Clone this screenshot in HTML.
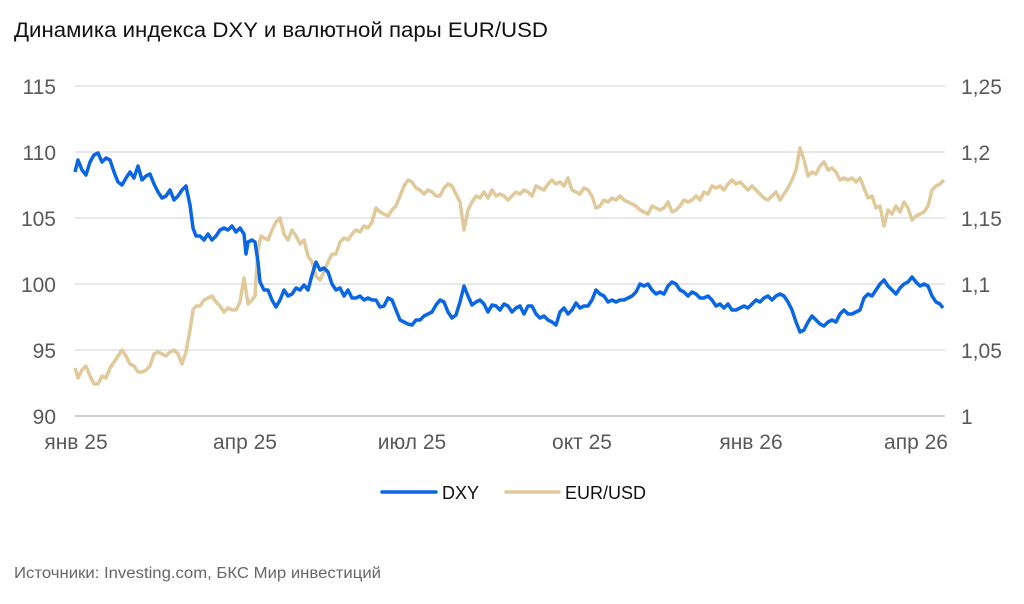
<!DOCTYPE html><html><head><meta charset="utf-8"><style>body{margin:0;background:#fff}svg{display:block}</style></head><body>
<svg width="1024" height="604" xmlns="http://www.w3.org/2000/svg" font-family="Liberation Sans, sans-serif">
<text x="14" y="37" font-size="21.5" fill="#111" textLength="534" lengthAdjust="spacingAndGlyphs">Динамика индекса DXY и валютной пары EUR/USD</text>
<g stroke="#d9d9d9" stroke-width="1.2">
<line x1="75" x2="945" y1="86" y2="86"/><line x1="75" x2="945" y1="152" y2="152"/><line x1="75" x2="945" y1="218" y2="218"/><line x1="75" x2="945" y1="284" y2="284"/><line x1="75" x2="945" y1="350" y2="350"/></g>
<line x1="75" x2="945" y1="416" y2="416" stroke="#bfbfbf" stroke-width="1.5"/>
<g font-size="21" fill="#595959" text-anchor="end">
<text x="56" y="94">115</text><text x="56" y="160">110</text><text x="56" y="226">105</text><text x="56" y="292">100</text><text x="56" y="358">95</text><text x="56" y="424">90</text></g>
<g font-size="21" fill="#595959" text-anchor="start">
<text x="961" y="94">1,25</text><text x="961" y="160">1,2</text><text x="961" y="226">1,15</text><text x="961" y="292">1,1</text><text x="961" y="358">1,05</text><text x="961" y="424">1</text></g>
<g font-size="21" fill="#595959" text-anchor="middle">
<text x="76" y="449">янв 25</text><text x="245" y="449">апр 25</text><text x="412" y="449">июл 25</text><text x="582" y="449">окт 25</text><text x="751" y="449">янв 26</text><text x="916" y="449">апр 26</text></g>
<polyline fill="none" stroke="#e0c99a" stroke-width="3.5" stroke-linejoin="round" points="75,368 78,378 82,370 86,366 90,376 94,384 98,384 102,376 106,378 110,368 114,362 118,356 122,350 126,356 130,364 134,366 138,372 142,372 146,370 150,366 154,354 158,352 162,354 166,356 170,352 174,350 178,354 182,364 186,352 190,330 193,310 196,306 200,306 204,300 208,298 212,296 216,302 220,306 224,312 228,308 232,310 236,310 240,302 244,278 248,304 252,300 255,296 258,250 261,236 264,238 268,240 272,230 276,222 280,218 284,234 288,240 292,230 296,236 300,244 304,240 308,256 312,262 316,276 320,280 324,272 328,262 332,254 336,254 340,242 344,238 348,240 352,234 356,230 360,232 364,226 368,228 372,222 376,208 380,212 384,214 388,216 392,210 396,206 400,196 404,186 408,180 412,182 416,188 420,190 424,194 428,190 432,192 436,196 440,196 444,188 448,184 452,186 456,194 460,202 464,230 468,210 472,202 476,196 480,198 484,192 488,198 492,190 496,196 500,194 504,196 508,200 512,196 516,192 520,194 524,190 528,192 532,196 536,186 540,188 544,190 548,184 552,180 556,184 560,182 564,186 568,178 572,190 576,192 580,194 584,188 588,190 592,196 596,208 600,206 604,200 608,202 612,198 616,200 620,196 624,200 628,202 632,204 636,206 640,210 644,212 648,214 652,206 656,208 660,210 664,208 668,202 672,212 676,210 680,206 684,200 688,202 692,200 696,196 700,200 704,192 708,194 712,186 716,188 720,186 724,190 728,184 732,180 736,184 740,182 744,186 748,190 752,186 756,190 760,194 764,198 768,200 772,196 776,192 780,200 784,194 788,188 792,180 796,170 800,148 804,160 808,176 812,172 816,174 820,166 824,162 828,170 832,168 836,172 840,180 844,178 848,180 852,178 856,182 860,178 864,188 868,198 872,196 876,208 880,206 884,226 888,210 892,214 896,206 900,212 904,202 908,208 912,220 916,216 920,214 924,212 928,206 932,190 936,186 940,184 944,180"/>
<polyline fill="none" stroke="#0a66e4" stroke-width="3.5" stroke-linejoin="round" points="75,172 78,160 82,170 86,175 90,162 94,155 98,153 102,162 106,158 110,160 114,172 118,182 122,185 126,178 130,172 134,178 138,166 142,180 146,176 150,174 154,184 158,192 162,198 166,196 170,190 174,200 178,196 182,190 186,186 190,205 193,228 196,236 200,236 204,240 208,234 212,240 216,236 220,230 224,228 228,230 232,226 236,232 240,228 244,234 246,254 248,242 252,240 255,242 258,262 260,282 264,290 268,290 272,300 276,307 280,300 284,290 288,296 292,294 296,288 300,290 304,285 308,290 312,275 316,262 320,270 324,268 328,272 332,284 336,290 340,288 344,296 348,290 352,298 356,298 360,296 364,300 368,298 372,300 376,300 380,307 384,306 388,298 392,300 396,310 400,320 404,322 408,324 412,325 416,320 420,320 424,316 428,314 432,312 436,305 440,300 444,302 448,312 452,318 456,315 460,302 464,286 468,296 472,305 476,302 480,300 484,304 488,312 492,305 496,306 500,310 504,304 508,306 512,312 516,308 520,306 524,314 528,306 532,306 536,314 540,318 544,316 548,320 552,322 556,325 560,312 564,308 568,314 572,310 576,303 580,308 584,306 588,306 592,300 596,290 600,294 604,296 608,302 612,300 616,302 620,300 624,300 628,298 632,296 636,292 640,284 644,286 648,284 652,290 656,294 660,292 664,294 668,286 672,282 676,284 680,290 684,292 688,296 692,292 696,294 700,298 704,298 708,296 712,300 716,306 720,304 724,308 728,304 732,310 736,310 740,308 744,306 748,308 752,304 756,300 760,302 764,298 768,296 772,300 776,296 780,294 784,296 788,302 792,310 796,322 800,332 804,330 808,322 812,316 816,320 820,324 824,326 828,322 832,320 836,322 840,314 844,310 848,314 852,314 856,312 860,310 864,298 868,294 872,296 876,290 880,284 884,280 888,286 892,290 896,294 900,288 904,284 908,282 912,277 916,282 920,286 924,284 928,286 932,296 936,302 940,304 943,308"/>
<line x1="382" x2="436" y1="492" y2="492" stroke="#0a66e4" stroke-width="3.5" stroke-linecap="round"/>
<text x="442" y="499" font-size="18" fill="#111">DXY</text>
<line x1="506" x2="559" y1="492" y2="492" stroke="#e0c99a" stroke-width="3.5" stroke-linecap="round"/>
<text x="565" y="499" font-size="18" fill="#111">EUR/USD</text>
<text x="14" y="578" font-size="16" fill="#666" textLength="367" lengthAdjust="spacingAndGlyphs">Источники: Investing.com, БКС Мир инвестиций</text>
</svg></body></html>
